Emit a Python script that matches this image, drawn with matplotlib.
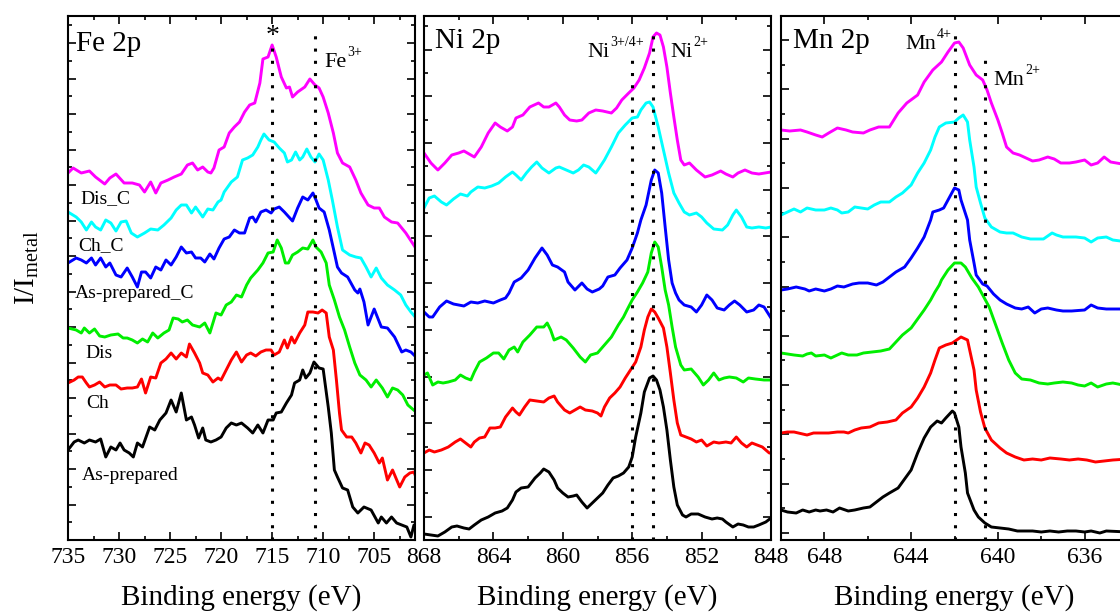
import matplotlib
matplotlib.use('Agg')
import matplotlib.pyplot as plt
from matplotlib.ticker import MultipleLocator, NullFormatter
import matplotlib.transforms as mtrans

plt.rcParams.update({
    'font.family': ['Liberation Serif', 'DejaVu Serif'],
    'mathtext.fontset': 'custom',
    'mathtext.rm': 'Liberation Serif',
    'mathtext.it': 'Liberation Serif:italic',
    'mathtext.bf': 'Liberation Serif:bold',
})

# ---------------- data (binding energy eV, intensity a.u.) ----------------
samples = ["As-prepared", "Ch", "Dis", "As-prepared_C", "Ch_C", "Dis_C"]
panel_titles = ["Fe 2p", "Ni 2p", "Mn 2p"]

fe_as_prepared = [(735.0,90),(734.4,98),(734.0,100),(733.4,97),(732.9,100),(732.3,98),(731.8,101),(731.3,83),(730.8,93),(730.3,90),(729.9,97),(729.5,90),(729.0,87),(728.6,83),(728.2,97),(727.7,93),(727.0,113),(726.5,110),(726.0,120),(725.4,127),(724.9,140),(724.4,128),(723.9,147),(723.4,120),(722.9,123),(722.6,115),(722.2,102),(721.8,112),(721.5,100),(721.0,98),(720.5,100),(720.0,103),(719.5,112),(719.0,117),(718.5,115),(718.0,117),(717.4,112),(716.9,107),(716.4,115),(715.9,107),(715.4,120),(714.9,120),(714.6,127),(714.1,128),(713.6,137),(713.1,145),(712.8,157),(712.3,160),(712.0,170),(711.7,162),(711.3,167),(710.9,178),(710.4,172),(710.0,171),(709.5,133),(709.2,107),(708.9,70),(708.6,63),(708.1,52),(707.6,50),(707.1,33),(706.6,27),(706.0,33),(705.3,30),(704.6,17),(704.3,23),(703.8,17),(703.3,23),(702.8,17),(702.3,15),(701.8,13),(701.4,3),(701.1,15),(700.9,13)]
fe_ch = [(735.0,157),(734.4,160),(734.0,163),(733.6,163),(733.2,157),(732.9,153),(732.4,155),(731.9,158),(731.4,153),(730.9,155),(730.3,155),(729.8,151),(729.2,152),(728.7,152),(728.2,153),(727.8,161),(727.4,147),(726.9,163),(726.4,162),(725.9,177),(725.4,181),(724.9,187),(724.4,181),(723.9,187),(723.4,183),(723.1,196),(722.6,187),(722.1,177),(721.8,167),(721.3,165),(720.8,158),(720.3,162),(720.0,160),(719.5,170),(719.0,180),(718.5,188),(718.0,178),(717.5,185),(717.1,187),(716.6,184),(716.1,188),(715.6,190),(715.1,190),(714.8,185),(714.3,188),(713.8,200),(713.5,192),(713.1,203),(712.8,197),(712.3,207),(711.8,215),(711.5,228),(711.0,228),(710.5,227),(710.1,230),(709.7,227),(709.4,203),(709.0,190),(708.7,160),(708.4,127),(708.2,110),(707.7,103),(707.2,103),(706.8,97),(706.3,87),(705.9,97),(705.5,95),(705.0,87),(704.5,77),(704.2,82),(703.7,60),(703.2,70),(702.5,53),(702.0,63),(701.5,67),(701.1,68),(700.8,60)]
fe_dis = [(735.0,212),(734.2,210),(733.7,207),(733.4,212),(732.9,207),(732.4,211),(731.9,204),(731.4,203),(730.8,205),(730.1,206),(729.6,202),(729.2,202),(728.7,200),(728.2,197),(727.7,201),(727.2,198),(726.7,207),(726.2,202),(725.6,207),(725.1,210),(724.7,222),(724.2,221),(723.8,218),(723.3,220),(722.8,215),(722.1,213),(721.6,217),(721.1,207),(720.8,217),(720.5,227),(720.0,225),(719.5,235),(719.0,238),(718.5,245),(718.0,243),(717.5,255),(717.1,262),(716.4,270),(715.9,277),(715.4,287),(714.9,288),(714.5,300),(714.1,292),(713.7,277),(713.4,277),(713.0,285),(712.5,288),(712.0,292),(711.5,291),(711.0,300),(710.7,293),(710.2,288),(709.7,277),(709.4,255),(708.9,240),(708.4,223),(707.9,210),(707.4,193),(706.9,177),(706.4,165),(705.8,160),(705.3,153),(704.8,160),(704.2,152),(703.7,143),(703.2,152),(702.7,150),(702.2,145),(701.7,135),(700.9,128)]
fe_as_prepared_c = [(735.0,277),(734.2,282),(733.7,280),(733.2,277),(732.7,282),(732.3,275),(731.8,282),(731.3,273),(730.9,277),(730.3,265),(729.8,263),(729.2,272),(728.7,263),(728.2,253),(727.8,268),(727.4,268),(726.9,262),(726.4,273),(725.9,270),(725.4,280),(724.9,275),(724.4,283),(723.9,293),(723.4,287),(722.9,288),(722.5,282),(722.0,282),(721.6,278),(721.1,286),(720.7,281),(720.2,292),(719.7,301),(719.2,303),(718.7,310),(718.2,307),(717.7,307),(717.2,322),(716.9,323),(716.6,318),(716.1,328),(715.6,330),(715.1,327),(714.8,331),(714.3,333),(713.8,328),(713.0,319),(712.5,332),(712.0,343),(711.5,340),(711.0,347),(710.7,340),(710.4,332),(709.9,328),(709.4,310),(708.9,287),(708.6,273),(708.2,267),(707.6,263),(706.9,250),(706.6,247),(706.4,251),(706.0,238),(705.6,215),(705.0,231),(704.3,213),(703.7,212),(703.0,203),(702.3,188),(701.9,190),(701.4,188),(700.9,183)]
fe_ch_c = [(735.0,328),(734.2,323),(733.7,318),(733.2,310),(732.7,318),(732.3,313),(731.8,310),(731.3,320),(730.8,317),(730.3,309),(729.8,318),(729.3,319),(728.8,307),(728.2,303),(727.5,307),(726.9,311),(726.2,310),(725.6,315),(724.9,322),(724.4,330),(723.9,335),(723.4,335),(722.9,327),(722.5,333),(721.8,323),(721.3,331),(720.8,330),(720.3,338),(720.0,340),(719.7,348),(719.0,358),(718.4,363),(717.9,380),(717.4,382),(716.9,385),(716.4,393),(716.1,400),(715.8,406),(715.3,400),(714.8,398),(714.3,392),(713.8,387),(713.5,378),(713.1,380),(712.7,388),(712.3,380),(712.0,383),(711.6,391),(711.2,383),(710.8,378),(710.4,386),(710.0,380),(709.5,360),(709.1,340),(708.6,313),(708.1,290),(707.4,285),(706.8,283),(706.3,282),(705.8,273),(705.3,263),(704.8,272),(704.3,262),(703.7,255),(703.0,250),(702.4,245),(701.9,235),(701.4,228),(700.9,222)]
fe_dis_c = [(735.0,367),(734.5,372),(733.7,367),(732.9,369),(732.3,363),(731.4,356),(730.9,362),(730.3,366),(729.5,357),(728.7,357),(728.0,355),(727.5,348),(726.9,358),(726.4,347),(725.9,357),(725.2,360),(724.6,363),(723.9,366),(723.3,375),(722.8,377),(722.3,370),(721.8,373),(721.3,368),(721.0,367),(720.7,372),(720.2,390),(719.7,393),(719.2,407),(718.7,413),(718.2,418),(717.7,428),(717.2,435),(716.7,437),(716.2,457),(715.9,481),(715.4,483),(715.0,495),(714.6,483),(714.1,463),(713.6,452),(713.3,453),(713.0,443),(712.5,448),(711.8,453),(711.3,461),(710.8,455),(710.4,452),(710.0,443),(709.5,427),(709.0,407),(708.6,387),(708.1,377),(707.4,373),(706.8,360),(706.3,347),(705.6,335),(705.0,332),(704.5,332),(704.0,323),(703.3,318),(702.7,317),(701.9,307),(701.0,293)]

ni_as_prepared = [(868.0,6),(867.6,5),(867.2,4),(866.8,8),(866.4,13),(866.1,14),(865.7,12),(865.4,11),(865.1,15),(864.7,20),(864.3,23),(863.9,27),(863.5,29),(863.2,32),(862.9,40),(862.7,48),(862.4,52),(862.0,53),(861.6,62),(861.3,67),(861.1,71),(860.8,68),(860.5,60),(860.3,52),(860.0,47),(859.7,43),(859.4,44),(859.2,45),(858.9,38),(858.6,32),(858.3,37),(858.0,42),(857.7,47),(857.4,55),(857.1,62),(856.8,64),(856.5,67),(856.2,73),(856.0,83),(855.8,103),(855.5,127),(855.3,148),(855.0,162),(854.8,164),(854.6,160),(854.4,150),(854.2,133),(854.0,110),(853.8,80),(853.6,53),(853.4,35),(853.1,25),(852.9,23),(852.6,26),(852.2,26),(851.8,23),(851.4,21),(851.1,22),(850.8,21),(850.6,18),(850.2,13),(849.9,16),(849.6,15),(849.3,13),(849.0,13),(848.7,15),(848.3,18),(848.0,22)]
ni_ch = [(868.0,87),(867.7,90),(867.4,88),(867.0,90),(866.6,93),(866.2,98),(865.9,101),(865.6,97),(865.3,93),(865.1,98),(864.8,102),(864.5,103),(864.2,112),(863.9,112),(863.6,113),(863.3,123),(862.9,132),(862.7,128),(862.5,125),(862.2,133),(861.9,140),(861.5,139),(861.1,138),(860.8,142),(860.5,144),(860.3,138),(859.9,130),(859.6,127),(859.3,130),(859.0,133),(858.7,130),(858.3,129),(858.0,127),(857.8,124),(857.6,133),(857.3,142),(857.0,147),(856.7,153),(856.4,162),(856.1,170),(855.8,178),(855.5,193),(855.3,210),(855.1,223),(854.9,231),(854.7,228),(854.5,222),(854.2,212),(854.0,193),(853.8,167),(853.6,140),(853.4,117),(853.2,105),(852.9,103),(852.6,101),(852.3,98),(852.0,100),(851.7,94),(851.3,98),(851.0,97),(850.6,98),(850.3,97),(850.0,103),(849.7,97),(849.4,93),(849.1,97),(848.8,95),(848.5,93),(848.1,87),(848.0,87)]
ni_dis = [(868.0,165),(867.8,167),(867.5,155),(867.2,158),(866.9,157),(866.6,158),(866.2,160),(865.9,165),(865.6,162),(865.3,160),(865.1,168),(864.8,178),(864.4,182),(864.0,187),(863.7,187),(863.4,181),(863.1,190),(862.8,193),(862.6,188),(862.3,198),(861.9,205),(861.5,213),(861.1,213),(860.9,217),(860.7,210),(860.5,200),(860.1,203),(859.8,200),(859.4,192),(859.0,183),(858.7,178),(858.4,185),(858.0,187),(857.7,193),(857.2,203),(856.8,215),(856.5,223),(856.3,230),(856.0,240),(855.7,248),(855.4,257),(855.1,268),(854.9,287),(854.7,298),(854.5,293),(854.3,273),(854.1,250),(853.9,235),(853.7,213),(853.5,193),(853.2,175),(853.0,170),(852.6,171),(852.2,163),(851.9,155),(851.6,160),(851.3,167),(851.0,160),(850.7,162),(850.4,163),(850.0,162),(849.6,158),(849.3,162),(848.9,161),(848.4,160),(848.0,160)]
ni_as_prepared_c = [(868.0,228),(867.7,223),(867.5,223),(867.1,233),(866.7,239),(866.3,236),(865.7,234),(865.3,238),(864.9,237),(864.5,239),(864.0,237),(863.6,240),(863.3,242),(863.1,247),(862.8,258),(862.4,262),(862.0,270),(861.6,282),(861.2,292),(860.9,285),(860.6,275),(860.3,273),(859.9,268),(859.7,258),(859.3,250),(858.9,257),(858.6,251),(858.3,248),(857.9,251),(857.7,254),(857.4,263),(857.0,265),(856.7,272),(856.3,280),(856.0,292),(855.7,307),(855.5,320),(855.2,335),(854.9,360),(854.7,370),(854.5,367),(854.3,347),(854.1,313),(853.9,280),(853.7,257),(853.5,247),(853.3,240),(853.0,235),(852.6,233),(852.3,228),(852.0,235),(851.7,245),(851.4,240),(851.1,232),(850.7,230),(850.4,235),(850.1,239),(849.8,235),(849.4,228),(849.0,230),(848.7,235),(848.4,233),(848.0,222)]
ni_ch_c = [(868.0,332),(867.7,342),(867.4,344),(867.0,338),(866.7,335),(866.3,341),(865.9,346),(865.5,344),(865.3,348),(864.9,353),(864.5,352),(864.1,354),(863.7,357),(863.3,363),(862.9,368),(862.7,365),(862.4,360),(862.1,367),(861.8,373),(861.5,378),(861.2,372),(860.8,367),(860.4,372),(860.2,373),(859.8,370),(859.4,367),(859.1,370),(858.8,375),(858.5,373),(858.1,367),(857.9,372),(857.6,380),(857.2,393),(856.8,407),(856.4,415),(856.0,422),(855.7,423),(855.5,430),(855.2,437),(855.0,438),(854.8,433),(854.5,413),(854.2,390),(853.9,367),(853.6,347),(853.3,337),(853.0,328),(852.7,325),(852.3,327),(852.0,323),(851.7,317),(851.3,311),(850.8,310),(850.5,315),(850.2,325),(850.0,330),(849.7,323),(849.4,313),(849.1,312),(848.7,313),(848.3,312),(848.0,313)]
ni_dis_c = [(868.0,387),(867.6,377),(867.2,370),(866.8,377),(866.4,385),(866.0,387),(865.7,389),(865.3,385),(865.1,383),(864.7,393),(864.3,407),(863.9,417),(863.6,413),(863.2,409),(862.9,413),(862.7,422),(862.3,425),(861.9,433),(861.4,437),(861.1,433),(860.8,433),(860.4,437),(860.2,433),(859.9,425),(859.6,420),(859.2,419),(858.9,420),(858.5,427),(858.1,430),(857.7,429),(857.2,427),(856.9,432),(856.6,440),(856.2,447),(855.9,452),(855.6,460),(855.3,472),(855.0,487),(854.8,503),(854.6,507),(854.4,505),(854.2,493),(854.0,473),(853.8,447),(853.6,423),(853.4,400),(853.2,380),(853.0,375),(852.7,377),(852.3,370),(851.8,363),(851.4,365),(850.9,369),(850.6,366),(850.2,363),(849.9,367),(849.5,370),(849.1,367),(848.7,366),(848.0,368)]

mn_as_prepared = [(650.0,30),(649.7,28),(649.3,27),(649.0,30),(648.7,28),(648.4,30),(648.2,29),(647.9,30),(647.6,28),(647.3,32),(646.9,29),(646.6,30),(646.2,32),(645.9,33),(645.6,38),(645.3,43),(645.0,47),(644.6,52),(644.4,58),(644.0,70),(643.7,87),(643.4,102),(643.1,113),(642.8,119),(642.6,117),(642.4,122),(642.1,129),(642.0,127),(641.8,113),(641.7,93),(641.5,67),(641.4,47),(641.1,30),(640.9,23),(640.6,17),(640.3,13),(639.9,12),(639.5,11),(639.1,9),(638.7,9),(638.4,9),(638.0,8),(637.6,9),(637.2,8),(636.8,9),(636.4,9),(636.0,8),(635.7,9),(635.3,7),(635.0,9),(634.0,8)]
mn_ch = [(650.0,107),(649.7,108),(649.4,108),(649.0,106),(648.8,105),(648.5,107),(648.2,107),(647.8,107),(647.4,108),(647.1,108),(646.9,107),(646.6,110),(646.3,112),(645.9,113),(645.5,117),(645.1,118),(644.7,120),(644.4,127),(644.0,133),(643.7,142),(643.4,153),(643.1,167),(642.9,180),(642.7,192),(642.4,195),(642.1,197),(641.9,200),(641.7,203),(641.4,200),(641.3,190),(641.1,170),(641.0,150),(640.8,128),(640.6,112),(640.3,100),(639.9,92),(639.6,87),(639.2,83),(638.8,80),(638.4,81),(638.0,80),(637.6,82),(637.1,81),(636.7,80),(636.3,81),(635.9,80),(635.5,78),(635.1,79),(634.7,80),(634.0,81)]
mn_dis = [(650.0,187),(649.7,186),(649.4,185),(649.0,184),(648.8,186),(648.6,187),(648.4,184),(648.0,185),(647.8,183),(647.7,182),(647.4,185),(647.2,187),(646.9,185),(646.5,185),(646.2,187),(645.8,188),(645.4,189),(645.0,191),(644.7,198),(644.4,205),(644.0,212),(643.7,221),(643.4,230),(643.1,240),(642.9,248),(642.7,255),(642.6,260),(642.3,270),(642.0,277),(641.7,277),(641.5,273),(641.2,262),(640.9,253),(640.7,245),(640.4,233),(640.1,215),(639.8,197),(639.5,180),(639.2,167),(638.9,161),(638.5,160),(638.1,157),(637.7,156),(637.4,157),(637.0,158),(636.6,157),(636.3,155),(636.0,154),(635.7,157),(635.4,153),(635.0,156),(634.7,157),(634.0,154)]
mn_as_prepared_c = [(650.0,250),(649.7,251),(649.3,253),(648.9,251),(648.7,249),(648.4,251),(648.0,249),(647.7,251),(647.4,254),(647.1,253),(646.7,256),(646.4,257),(646.0,257),(645.6,255),(645.3,258),(645.0,263),(644.7,268),(644.3,273),(644.0,282),(643.7,292),(643.4,303),(643.1,320),(643.0,328),(642.7,330),(642.5,332),(642.3,340),(642.0,352),(641.8,350),(641.7,340),(641.4,320),(641.3,300),(641.1,277),(641.0,265),(640.7,256),(640.5,254),(640.2,246),(639.9,240),(639.6,236),(639.2,232),(638.9,231),(638.6,233),(638.3,227),(638.0,231),(637.7,232),(637.3,230),(637.0,229),(636.6,229),(636.0,230),(635.7,235),(635.4,232),(635.0,231),(634.0,231)]
mn_ch_c = [(650.0,325),(649.7,328),(649.4,331),(649.1,328),(648.8,332),(648.4,330),(648.0,330),(647.7,332),(647.4,330),(647.2,327),(646.9,328),(646.6,333),(646.3,332),(646.0,331),(645.7,335),(645.4,338),(645.0,338),(644.7,343),(644.4,347),(644.0,355),(643.7,367),(643.4,377),(643.1,390),(642.9,403),(642.7,413),(642.4,417),(642.0,418),(641.8,422),(641.6,425),(641.4,418),(641.3,400),(641.1,373),(641.0,353),(640.8,337),(640.6,322),(640.3,313),(639.9,308),(639.6,307),(639.3,307),(638.9,303),(638.5,301),(638.2,301),(637.9,301),(637.5,307),(637.3,305),(637.0,303),(636.7,303),(636.4,303),(636.0,302),(635.7,298),(635.4,302),(635.0,303),(634.7,300),(634.0,298)]
mn_dis_c = [(650.0,410),(649.6,409),(649.1,410),(648.8,408),(648.4,405),(648.1,403),(647.8,407),(647.4,412),(647.0,410),(646.7,408),(646.2,407),(645.9,410),(645.5,413),(645.2,413),(645.0,413),(644.6,427),(644.2,437),(643.7,445),(643.4,458),(643.0,470),(642.6,478),(642.3,488),(642.0,497),(641.8,498),(641.6,492),(641.3,475),(641.0,465),(640.7,460),(640.5,450),(640.3,437),(640.0,420),(639.8,407),(639.6,393),(639.3,387),(639.0,385),(638.7,382),(638.4,379),(638.1,380),(637.7,383),(637.4,381),(637.1,377),(636.7,377),(636.4,378),(636.0,380),(635.7,375),(635.4,377),(635.1,383),(634.8,378),(634.0,375)]

fe_series = [fe_as_prepared, fe_ch, fe_dis, fe_as_prepared_c, fe_ch_c, fe_dis_c]
ni_series = [ni_as_prepared, ni_ch, ni_dis, ni_as_prepared_c, ni_ch_c, ni_dis_c]
mn_series = [mn_as_prepared, mn_ch, mn_dis, mn_as_prepared_c, mn_ch_c, mn_dis_c]

# reference energies (dotted lines) and their labels (base, superscript)
fe_refs = [715.0, 710.8]
ni_refs = [856.0, 854.8]
mn_refs = [642.0, 640.6]
fe_ref_labels = [("*", ""), ("Fe", "3+")]
ni_ref_labels = [("Ni", "3+/4+"), ("Ni", "2+")]
mn_ref_labels = [("Mn", "4+"), ("Mn", "2+")]

# ---------------- styling ----------------
colors = ['black', '#ff0000', '#00ee00', '#0000ff', '#00ffff', '#ff00ff']
W, H = 1120, 612
fig = plt.figure(figsize=(W/100, H/100), dpi=100)

def rect(l, r, t=16, b=540):
    return [l/W, 1 - b/H, (r - l)/W, (b - t)/H]

panels = [
    dict(series=fe_series, rect=rect(68, 415), xlim=(735, 701.0), xmaj=5, xmin=2.5,
         ymaj=(35.5, 0.0), ymin=(17.75, 0.0), refs=fe_refs, ref_labels=fe_ref_labels,
         ref_tops=[0.94, 0.973],
         ref_text=[dict(x=715.0, y=0.948, ha='center', size=20),
                   dict(x=709.9, y=0.903, ha='left', size=16)],
         title_pos=(0.023, 0.933)),
    dict(series=ni_series, rect=rect(424, 771), xlim=(868, 848), xmaj=4, xmin=2,
         ymaj=(46.7, 23.35), ymin=(23.35, 0.0), refs=ni_refs, ref_labels=ni_ref_labels,
         ref_tops=[0.922, 0.977],
         ref_text=[dict(x=858.6, y=0.922, ha='left', size=16),
                   dict(x=853.8, y=0.922, ha='left', size=16)],
         title_pos=(0.032, 0.939)),
    dict(series=mn_series, rect=rect(781, 1128), xlim=(650, 634.0), xmaj=4, xmin=2,
         ymaj=(49.3, 7.0), ymin=(24.65, 7.0), refs=mn_refs, ref_labels=mn_ref_labels,
         ref_tops=[0.973, 0.916],
         ref_text=[dict(x=644.28, y=0.937, ha='left', size=16),
                   dict(x=640.2, y=0.868, ha='left', size=16)],
         title_pos=(0.035, 0.939)),
]

axes = []
for p, title in zip(panels, panel_titles):
    ax = fig.add_axes(p['rect'])
    axes.append(ax)
    for s, c in zip(p['series'], colors):
        xs = [e for e, _ in s]
        ys = [v for _, v in s]
        ax.plot(xs, ys, color=c, lw=2.1, solid_joinstyle='round', zorder=2)
    ax.set_xlim(*p['xlim'])
    ax.set_ylim(0, 524)
    ax.xaxis.set_major_locator(MultipleLocator(p['xmaj']))
    ax.xaxis.set_minor_locator(MultipleLocator(p['xmin']))
    ax.yaxis.set_major_locator(MultipleLocator(p['ymaj'][0], offset=p['ymaj'][1]))
    ax.yaxis.set_minor_locator(MultipleLocator(p['ymin'][0], offset=p['ymin'][1]))
    ax.yaxis.set_major_formatter(NullFormatter())
    ax.tick_params(which='both', direction='in', top=True, right=True, width=1.2)
    ax.tick_params(which='major', length=6, labelsize=17, pad=5)
    ax.tick_params(which='minor', length=3)
    for sp in ax.spines.values():
        sp.set_linewidth(1.5)
    trans = mtrans.blended_transform_factory(ax.transData, ax.transAxes)
    for xr, top in zip(p['refs'], p['ref_tops']):
        ax.plot([xr, xr], [0, top], transform=trans, color='black', lw=2.2,
                linestyle=(0, (1, 3)), dash_capstyle='butt', zorder=3, clip_on=False)
    for (base, sup), t in zip(p['ref_labels'], p['ref_text']):
        main = ax.text(t['x'], t['y'], base, transform=trans, ha=t['ha'],
                       va='baseline', fontsize=t['size'])
        if sup:
            ax.annotate(sup, xy=(1.0, t['y']), xycoords=(main, trans),
                        xytext=(0.5, 7.8), textcoords='offset points',
                        ha='left', va='baseline', fontsize=10)
    ax.text(p['title_pos'][0], p['title_pos'][1], title, transform=ax.transAxes,
            ha='left', va='baseline', fontsize=21)
    cx = p['rect'][0] + p['rect'][2] / 2
    fig.text(cx, 1 - 605/H, "Binding energy (eV)", ha='center', va='baseline', fontsize=21)

# sample labels in Fe panel (left x, baseline y in axes fraction)
label_pos = [(0.040, 0.115), (0.052, 0.252), (0.049, 0.347),
             (0.020, 0.462), (0.029, 0.553), (0.035, 0.643)]
for name, (lx, ly) in zip(samples, label_pos):
    axes[0].text(lx, ly, name, transform=axes[0].transAxes, ha='left',
                 va='baseline', fontsize=14)

fig.text(27/W, 1 - 268/H, r"I/I$_{\mathrm{metal}}$", rotation=90, ha='center',
         va='center', fontsize=21)

fig.savefig('out.png', dpi=100)
